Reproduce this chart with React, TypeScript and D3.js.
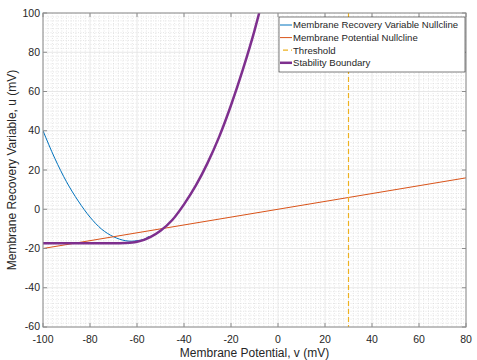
import React, { useRef, useEffect } from "react";
import * as d3 from "d3";

// values
const xTicks = [-100, -80, -60, -40, -20, 0, 20, 40, 60, 80];
const yTicks = [-60, -40, -20, 0, 20, 40, 60, 80, 100];

const recoveryV = [-100, -95, -90, -85, -80, -75, -70, -65, -62.5, -60, -57, -55];
const recoveryU = [40, 26, 14, 4.2, -4, -10.2, -14, -16, -16.3, -16, -15.3, -13.8];

const potentialV = [-100, 80];
const potentialU = [-20, 16];

const thresholdV = 30;

const boundaryV = [-100, -90, -80, -70, -65, -62, -60, -57, -54, -50, -45, -40, -35, -30, -25, -20, -15, -10, -8];
const boundaryU = [-17.3, -17.3, -17.3, -17.3, -17.2, -17.0, -16.6, -15.6, -14.0, -11.0, -5.5, 2.5, 12, 23.5, 37, 53, 71, 91, 100];

const legendLabels = [
  "Membrane Recovery Variable Nullcline",
  "Membrane Potential Nullcline",
  "Threshold",
  "Stability Boundary",
];

export default function App() {
  const ref = useRef<SVGSVGElement | null>(null);

  useEffect(() => {
    if (!ref.current) return;
    const svg = d3.select(ref.current);
    svg.selectAll("*").remove();

    const width = 477;
    const height = 360;
    const margin = { top: 13, right: 11, bottom: 33, left: 43 };
    const innerW = width - margin.left - margin.right;
    const innerH = height - margin.top - margin.bottom;
    const font = "'Liberation Sans', Arial, sans-serif";
    const textColor = "#262626";
    const axisColor = "#8c8c8c";

    const x = d3.scaleLinear().domain([-100, 80]).range([0, innerW]);
    const y = d3.scaleLinear().domain([-60, 100]).range([innerH, 0]);

    const g = svg.append("g").attr("transform", `translate(${margin.left},${margin.top})`);

    g.append("rect").attr("width", innerW).attr("height", innerH).attr("fill", "#fff");

    // minor grid
    const minorX = d3.range(-100, 81, 2).filter((d) => d % 20 !== 0);
    const minorY = d3.range(-60, 101, 2).filter((d) => d % 20 !== 0);
    g.append("g")
      .selectAll("line")
      .data(minorX)
      .enter()
      .append("line")
      .attr("x1", (d) => x(d))
      .attr("x2", (d) => x(d))
      .attr("y1", 0)
      .attr("y2", innerH)
      .attr("stroke", "#d4d4d4")
      .attr("stroke-width", 0.6)
      .attr("stroke-dasharray", "1,1.5");
    g.append("g")
      .selectAll("line")
      .data(minorY)
      .enter()
      .append("line")
      .attr("y1", (d) => y(d))
      .attr("y2", (d) => y(d))
      .attr("x1", 0)
      .attr("x2", innerW)
      .attr("stroke", "#d4d4d4")
      .attr("stroke-width", 0.6)
      .attr("stroke-dasharray", "1,1.5");

    // major grid
    g.append("g")
      .selectAll("line")
      .data(xTicks)
      .enter()
      .append("line")
      .attr("x1", (d) => x(d))
      .attr("x2", (d) => x(d))
      .attr("y1", 0)
      .attr("y2", innerH)
      .attr("stroke", "#e2e2e2")
      .attr("stroke-width", 0.8);
    g.append("g")
      .selectAll("line")
      .data(yTicks)
      .enter()
      .append("line")
      .attr("y1", (d) => y(d))
      .attr("y2", (d) => y(d))
      .attr("x1", 0)
      .attr("x2", innerW)
      .attr("stroke", "#e2e2e2")
      .attr("stroke-width", 0.8);

    const plot = g.append("g");
    svg
      .append("defs")
      .append("clipPath")
      .attr("id", "clip")
      .append("rect")
      .attr("width", innerW)
      .attr("height", innerH);
    plot.attr("clip-path", "url(#clip)");

    const line = d3
      .line<[number, number]>()
      .x((d) => x(d[0]))
      .y((d) => y(d[1]))
      .curve(d3.curveMonotoneX);

    plot
      .append("path")
      .datum(d3.zip(recoveryV, recoveryU) as [number, number][])
      .attr("d", line)
      .attr("fill", "none")
      .attr("stroke", "#0072BD")
      .attr("stroke-width", 1);

    plot
      .append("path")
      .datum(d3.zip(potentialV, potentialU) as [number, number][])
      .attr("d", line)
      .attr("fill", "none")
      .attr("stroke", "#D95319")
      .attr("stroke-width", 1);

    plot
      .append("line")
      .attr("x1", x(thresholdV))
      .attr("x2", x(thresholdV))
      .attr("y1", 0)
      .attr("y2", innerH)
      .attr("stroke", "#EDB120")
      .attr("stroke-width", 1.2)
      .attr("stroke-dasharray", "5,3");

    plot
      .append("path")
      .datum(d3.zip(boundaryV, boundaryU) as [number, number][])
      .attr("d", line)
      .attr("fill", "none")
      .attr("stroke", "#7E2F8E")
      .attr("stroke-width", 2.5);

    // box + ticks
    g.append("rect")
      .attr("width", innerW)
      .attr("height", innerH)
      .attr("fill", "none")
      .attr("stroke", axisColor)
      .attr("stroke-width", 1);

    const tickLen = 4;
    xTicks.forEach((t) => {
      g.append("line").attr("x1", x(t)).attr("x2", x(t)).attr("y1", innerH).attr("y2", innerH - tickLen).attr("stroke", axisColor);
      g.append("line").attr("x1", x(t)).attr("x2", x(t)).attr("y1", 0).attr("y2", tickLen).attr("stroke", axisColor);
      g.append("text")
        .attr("x", x(t))
        .attr("y", innerH + 16)
        .attr("text-anchor", "middle")
        .attr("font-family", font)
        .attr("font-size", 10.5)
        .attr("fill", textColor)
        .text(t);
    });
    yTicks.forEach((t) => {
      g.append("line").attr("x1", 0).attr("x2", tickLen).attr("y1", y(t)).attr("y2", y(t)).attr("stroke", axisColor);
      g.append("line").attr("x1", innerW).attr("x2", innerW - tickLen).attr("y1", y(t)).attr("y2", y(t)).attr("stroke", axisColor);
      g.append("text")
        .attr("x", -3)
        .attr("y", y(t) - (t === -60 ? 1 : 0))
        .attr("dy", "0.35em")
        .attr("text-anchor", "end")
        .attr("font-family", font)
        .attr("font-size", 10.5)
        .attr("fill", textColor)
        .text(t);
    });

    // axis labels
    svg
      .append("text")
      .attr("x", margin.left + innerW / 2)
      .attr("y", height - 3)
      .attr("text-anchor", "middle")
      .attr("font-family", font)
      .attr("font-size", 12)
      .attr("fill", textColor)
      .text("Membrane Potential, v (mV)");
    svg
      .append("text")
      .attr("transform", `translate(16,${margin.top + innerH / 2}) rotate(-90)`)
      .attr("text-anchor", "middle")
      .attr("font-family", font)
      .attr("font-size", 12)
      .attr("fill", textColor)
      .text("Membrane Recovery Variable, u (mV)");

    // legend
    const colors = ["#0072BD", "#D95319", "#EDB120", "#7E2F8E"];
    const widths = [1, 1, 1.2, 2.5];
    const lg = svg.append("g").attr("transform", "translate(279,17)");
    lg.append("rect")
      .attr("width", 186)
      .attr("height", 55)
      .attr("fill", "#fff")
      .attr("stroke", "#262626")
      .attr("stroke-width", 0.6);
    legendLabels.forEach((label, i) => {
      const ly = 8 + i * 12.6;
      lg.append("line")
        .attr("x1", 1)
        .attr("x2", 13)
        .attr("y1", ly)
        .attr("y2", ly)
        .attr("stroke", colors[i])
        .attr("stroke-width", widths[i])
        .attr("stroke-dasharray", i === 2 ? "5,3" : null)
        .attr("stroke-dashoffset", i === 2 ? -3 : 0);
      lg.append("text")
        .attr("x", 14)
        .attr("y", ly)
        .attr("dy", "0.35em")
        .attr("font-family", font)
        .attr("font-size", 9.6)
        .attr("fill", textColor)
        .text(label);
    });
  }, []);

  return (
    <svg
      ref={ref}
      width={477}
      height={360}
      style={{ position: "absolute", left: 0, top: 0, background: "#fff" }}
    />
  );
}
